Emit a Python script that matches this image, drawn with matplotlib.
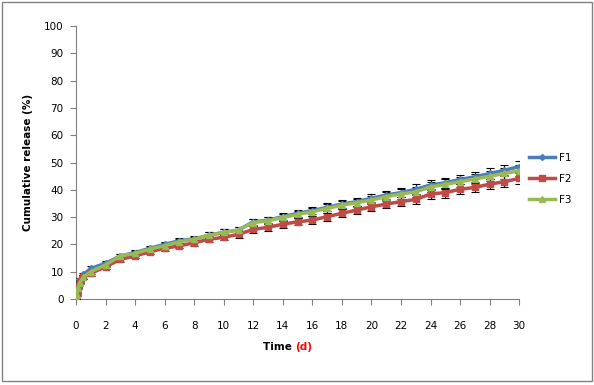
import matplotlib
matplotlib.use("Agg")
import matplotlib.pyplot as plt
from matplotlib.patches import Rectangle
from matplotlib.lines import Line2D

# sampling times (days)
days = [0, 0.04, 0.125, 0.25, 0.5, 1, 2, 3, 4, 5, 6, 7, 8, 9, 10, 11, 12, 13, 14, 15,
        16, 17, 18, 19, 20, 21, 22, 23, 24, 25, 26, 27, 28, 29, 30]

f1 = [0, 2.5, 5.0, 7.0, 9.0, 11.2, 13.1, 15.8, 17.0, 18.6, 20.0, 21.4, 22.0, 23.4, 24.4, 25.3,
      28.3, 28.9, 30.2, 31.4, 32.4, 33.6, 34.8, 35.7, 36.9, 38.1, 39.0, 40.2, 41.8, 42.6,
      43.8, 44.8, 46.0, 47.2, 48.5]
f2 = [0, 2.0, 4.5, 6.5, 8.0, 9.4, 11.8, 14.5, 15.8, 17.3, 18.6, 19.5, 20.6, 21.9, 22.6, 23.7,
      25.5, 26.3, 27.4, 28.3, 28.9, 30.2, 31.4, 32.6, 33.8, 34.8, 35.7, 36.5, 38.5, 39.0,
      40.2, 40.9, 42.1, 43.0, 44.2]
f3 = [0, 1.5, 4.0, 6.0, 8.0, 10.0, 12.5, 15.8, 16.7, 18.3, 19.5, 21.0, 21.9, 23.4, 24.4, 25.3,
      28.0, 28.7, 29.9, 31.0, 32.0, 33.2, 34.4, 35.3, 36.3, 37.5, 38.5, 39.3, 41.1, 42.0,
      43.0, 44.0, 45.0, 46.0, 47.0]

err = [0, 0.4, 0.5, 0.6, 0.7, 0.8, 0.9, 0.8, 0.8, 0.8, 0.9, 0.9, 1.0, 1.1, 1.1, 1.2,
       1.2, 1.2, 1.3, 1.3, 1.4, 1.5, 1.5, 1.5, 1.6, 1.6, 1.7, 1.8, 1.7, 1.8,
       1.8, 1.8, 1.9, 1.9, 2.0]

fig = plt.figure(figsize=(5.94, 3.85), dpi=100)
fig.patches.append(Rectangle((0.004, 0.01), 0.992, 0.985, transform=fig.transFigure,
                             fill=False, edgecolor="#808080", linewidth=1.0))
ax = fig.add_axes([0.128, 0.2234, 0.746, 0.7086])

series = [("F1", f1, "#4A7EBB", "D", 3),
          ("F2", f2, "#BE4B48", "s", 5),
          ("F3", f3, "#98B954", "^", 5)]
handles = []
for name, vals, col, mk, ms in series:
    ax.errorbar(days, vals, yerr=err, color=col, linewidth=2.5, marker=mk, markersize=ms,
                ecolor="black", elinewidth=0.8, capsize=3, capthick=0.8, zorder=3)
    handles.append(Line2D([], [], color=col, linewidth=2.5, marker=mk, markersize=ms,
                          label=name))

ax.set_xlim(0, 30)
ax.set_ylim(0, 100)
ax.set_xticks(range(0, 31, 2))
ax.set_yticks(range(0, 101, 10))
for s in ["top", "right"]:
    ax.spines[s].set_visible(False)
for s in ["left", "bottom"]:
    ax.spines[s].set_color("#808080")
ax.tick_params(axis="both", direction="out", length=4, color="#808080", labelsize=7.5)
ax.tick_params(axis="x", pad=12)
ax.tick_params(axis="y", pad=5)

ax.set_ylabel("Cumulative release (%)", fontsize=7.5, fontweight="bold", labelpad=8)
fig.text(0.497, 0.098, "Time ", ha="right", va="center", fontsize=7.5, fontweight="bold")
fig.text(0.497, 0.098, "(d)", ha="left", va="center", fontsize=7.5, fontweight="bold",
         color="red")

ax.legend(handles=handles, loc="center left", bbox_to_anchor=(1.0, 0.44), frameon=False,
          fontsize=7.5, handlelength=2.5, labelspacing=1.05, handletextpad=0.4)

fig.savefig("out.png", dpi=100)
